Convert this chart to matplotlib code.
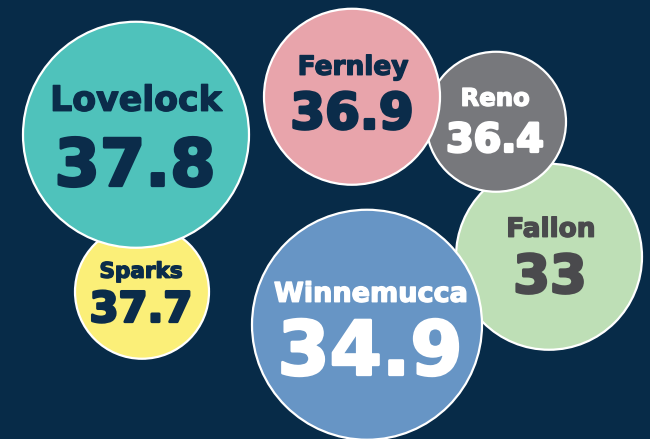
import matplotlib
matplotlib.use("Agg")
import matplotlib.pyplot as plt
import matplotlib.patheffects as pe
from matplotlib.patches import Circle

# data
cities = ["Sparks", "Lovelock", "Fallon", "Reno", "Fernley", "Winnemucca"]
values = [37.7, 37.8, 33, 36.4, 36.9, 34.9]
value_labels = ["37.7", "37.8", "33", "36.4", "36.9", "34.9"]

# layout in pixels (x, y from top-left), radius, drawn in this order
centers = [(142, 292), (136, 135), (549, 257), (496, 122), (352, 97), (367, 325)]
radii = [67, 113, 93, 70, 88, 115]
label_x = [141, 136, 551, 495, 353, 371]
value_x = [141, 135, 550, 495, 352, 370]
label_base = [278, 111, 237, 106, 75, 302]
value_base = [322, 186, 293, 152, 129, 375]
label_size = [15.5, 25, 19, 17.5, 19, 19.5]
value_size = [30, 47, 38, 28.5, 36, 54]

fills = ["#fbef78", "#4fc2bb", "#bedfb6", "#77787c", "#e8a4ab", "#6795c5"]
text_colors = ["#0b2c4a", "#0b2c4a", "#4a4a4d", "#ffffff", "#0b2c4a", "#ffffff"]
bg = "#072b48"


def main():
    fig = plt.figure(figsize=(6.5, 4.395), dpi=100)
    fig.patch.set_facecolor(bg)
    ax = fig.add_axes([0, 0, 1, 1])
    ax.set_facecolor(bg)
    ax.set_xlim(0, 650)
    ax.set_ylim(439, 0)
    ax.set_aspect("equal")
    ax.axis("off")

    for i in range(len(cities)):
        c = Circle(centers[i], radii[i], facecolor=fills[i], edgecolor="white",
                   linewidth=1.6, zorder=2 + i)
        ax.add_patch(c)

    for i in range(len(cities)):
        col = text_colors[i]
        ax.text(label_x[i], label_base[i], cities[i], ha="center", va="baseline",
                fontsize=label_size[i], fontweight="bold", color=col,
                family="DejaVu Sans", zorder=20,
                path_effects=[pe.withStroke(linewidth=1.0, foreground=col)])
        ax.text(value_x[i], value_base[i], value_labels[i], ha="center", va="baseline",
                fontsize=value_size[i], fontweight="bold", color=col,
                family="DejaVu Sans", zorder=20,
                path_effects=[pe.withStroke(linewidth=2.0, foreground=col)])

    fig.savefig("out.png", dpi=100, facecolor=bg)


if __name__ == "__main__":
    main()
